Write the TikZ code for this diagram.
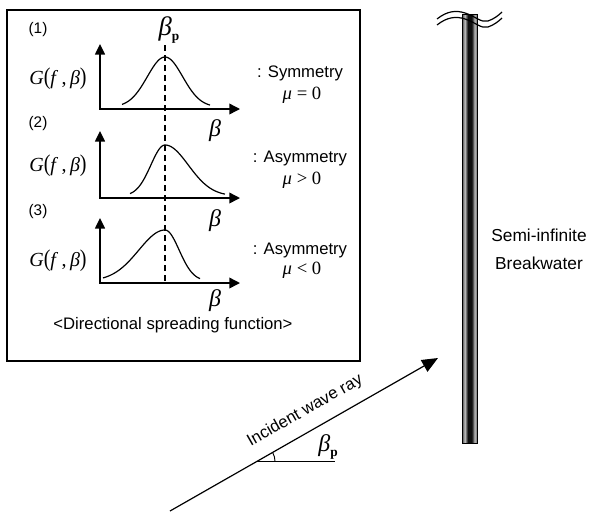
\documentclass[tikz,border=0pt]{standalone}
\usepackage{fontspec}
\usepackage{graphicx}
\setmainfont{Liberation Sans}
\newfontfamily\tms{Liberation Serif}
\usetikzlibrary{arrows.meta,calc}
\definecolor{bwA}{gray}{0.30}
\definecolor{bwB}{gray}{0.55}
\definecolor{bwC}{gray}{0.72}
\definecolor{bwE}{gray}{0.35}
\definecolor{bwD}{gray}{0.06}
\pgfdeclarehorizontalshading{bwshade}{100bp}{color(0bp)=(bwA); color(25bp)=(bwA); color(29bp)=(bwB); color(34bp)=(bwC); color(39bp)=(bwE); color(44bp)=(bwD); color(56bp)=(bwD); color(61bp)=(bwE); color(66bp)=(bwC); color(71bp)=(bwB); color(75bp)=(bwA); color(100bp)=(bwA)}
\newcommand\myGfb{\textit{G}\scalebox{1}[1.2]{(}\textit{f}\,,\,\textit{β}\scalebox{1}[1.2]{)}}
\newcommand\mybetap[1]{{\fontsize{#1}{#1}\selectfont\textit{β}}\raisebox{-0.5ex}{\fontsize{10}{10}\selectfont\bfseries p}}
\begin{document}
\begin{tikzpicture}[x=0.75pt,y=-0.75pt,
  axisline/.style={line width=1.1pt,{Triangle[length=8pt,width=7.5pt]}-{Triangle[length=8pt,width=8pt]}},
  curveline/.style={line width=0.9pt},
  sanslbl/.style={font=\fontsize{12.5}{15}\selectfont, inner sep=0pt},
  numlbl/.style={font=\fontsize{11.5}{14}\selectfont, inner sep=0pt},
  mathlbl/.style={font=\tms\fontsize{15}{18}\selectfont, inner sep=0pt},
  betalbl/.style={font=\tms\itshape\fontsize{18}{18}\selectfont, inner sep=0pt},
  mulbl/.style={font=\tms\fontsize{14}{16}\selectfont, inner sep=0pt}]
\useasboundingbox (0,0) rectangle (591,511);
% box
\draw[line width=1pt] (7,10) rectangle (360,361);
% axes
\coordinate (t1) at (100,44); \coordinate (o1) at (100,109); \coordinate (e1) at (240,109);
\coordinate (t2) at (100,131); \coordinate (o2) at (100,198); \coordinate (e2) at (240,198);
\coordinate (t3) at (100,218); \coordinate (o3) at (100,283); \coordinate (e3) at (240,283);
\draw[axisline] (t1) -- (o1) -- (e1);
\draw[axisline] (t2) -- (o2) -- (e2);
\draw[axisline] (t3) -- (o3) -- (e3);
% dashed peak line
\coordinate (d1) at (165,45); \coordinate (d2) at (165,283);
\draw[line width=0.9pt, dash pattern=on 4.5pt off 3pt] (d1) -- (d2);
% curves
\draw[curveline] plot[domain=122:210,samples=80,smooth] (\x,{107-50*exp(-((\x-165)/25)*((\x-165)/25))});
\draw[curveline] plot[domain=130:165,samples=40,smooth] (\x,{196-51*exp(-((\x-165)/20)*((\x-165)/20))})
  -- plot[domain=165:225,samples=60,smooth] (\x,{196-51*exp(-((\x-165)/33)*((\x-165)/33))});
\draw[curveline] plot[domain=103:165,samples=60,smooth] (\x,{281-51*exp(-((\x-165)/37)*((\x-165)/37))})
  -- plot[domain=165:200,samples=40,smooth] (\x,{281-51*exp(-((\x-165)/20)*((\x-165)/20))});
% labels in box
\node[numlbl] (n1) at (38,30) {(1)};
\node[numlbl] (n2) at (38,124) {(2)};
\node[numlbl] (n3) at (38,212) {(3)};
\node[mathlbl] (g1) at (58,79) {\myGfb};
\node[mathlbl] (g2) at (58,166) {\myGfb};
\node[mathlbl] (g3) at (58,261) {\myGfb};
\node[mathlbl] (bpt) at (169,30) {\mybetap{20}};
\node[betalbl] (b1) at (215,131) {β};
\node[betalbl] (b2) at (215,221) {β};
\node[betalbl] (b3) at (215,301) {β};
\node[sanslbl] (s1) at (300,73) {: Symmetry};
\node[mulbl] (m1) at (302,95) {\textit{μ} = 0};
\node[sanslbl] (s2) at (300,158) {: Asymmetry};
\node[mulbl] (m2) at (302,180) {\textit{μ} > 0};
\node[sanslbl] (s3) at (300,250) {: Asymmetry};
\node[mulbl] (m3) at (302,270) {\textit{μ} < 0};
\node[sanslbl] (cap) at (173,325) {<Directional spreading function>};
% breakwater
\node[draw, line width=0.4pt, shading=bwshade, minimum width=11.25pt, minimum height=321.75pt, inner sep=0pt, anchor=north west] (bw) at (462,14) {};
\draw[line width=0.9pt] (437,19) .. controls (447,11) and (456,10) .. (465,13) .. controls (475,16) and (481,23) .. (488,21) .. controls (494,19) and (499,15) .. (502,12);
\draw[line width=0.9pt] (437,25) .. controls (447,17) and (456,16) .. (465,19) .. controls (475,22) and (481,29) .. (488,27) .. controls (494,25) and (499,21) .. (502,18);
\node[font=\fontsize{13}{21}\selectfont, align=center, inner sep=0pt] (sb) at (539,249) {Semi-infinite\\Breakwater};
% incident ray
\coordinate (S) at (170,511);
\coordinate (T) at (438,358);
\draw[line width=0.9pt, -{Triangle[length=12pt,width=10pt]}] (S) -- (T)
  node[pos=0.541, sloped, anchor=base, yshift=11.7pt, font=\fontsize{12.5}{15}\selectfont, inner sep=0pt] (ir) {Incident wave ray};
\coordinate (V) at ($(S)!0.3246!(T)$);
\coordinate (H) at ($(V)+(78,0)$);
\draw[line width=0.9pt] (V) -- (H);
\draw[line width=0.7pt] ($(V)+(18,0)$) arc[start angle=0, end angle=-29.7, radius=18];
\node[mathlbl] (bpb) at (328,447) {\mybetap{18}};
\end{tikzpicture}
\end{document}
